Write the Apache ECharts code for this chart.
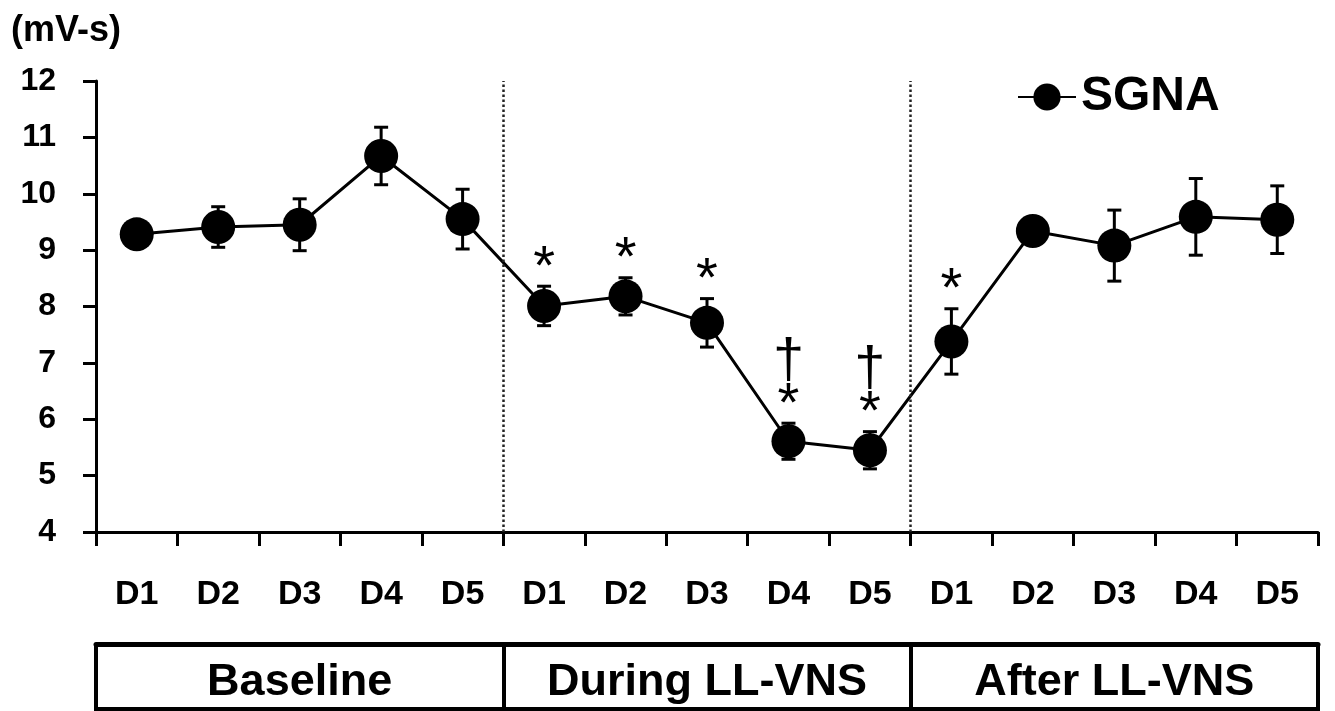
<!DOCTYPE html>
<html>
<head>
<meta charset="utf-8">
<title>SGNA</title>
<script src="https://cdn.jsdelivr.net/npm/echarts@6/dist/echarts.min.js"></script>
<style>
    html, body { margin: 0; padding: 0; background: #fff; }
    #chart { width: 1335px; height: 711px; }
</style>
</head>
<body>
<div id="chart"></div>
<script>
// day labels along the x axis
const dayLabels = ['D1', 'D2', 'D3', 'D4', 'D5', 'D1', 'D2', 'D3', 'D4', 'D5', 'D1', 'D2', 'D3', 'D4', 'D5'];
// phase boxes under the axis
const phases = ['Baseline', 'During LL-VNS', 'After LL-VNS'];
// where the phases meet (in day slots)
const phaseBounds = [5, 10];
// SGNA mean and SEM (mV-s)
const sgnaMean = [9.28, 9.41, 9.45, 10.67, 9.55, 8.01, 8.18, 7.71, 5.61, 5.45, 7.38, 9.34, 9.08, 9.59, 9.54];
const sgnaSem = [0.15, 0.36, 0.46, 0.51, 0.53, 0.35, 0.33, 0.43, 0.32, 0.33, 0.58, 0.18, 0.63, 0.68, 0.60];
// significance marks above the points
const sigMarks = ['', '', '', '', '', '*', '*', '*', '†\n*', '†\n*', '*', '', '', '', ''];
// y axis ticks
const yMin = 4, yMax = 12, yStep = 1;

const font = '"Liberation Sans", Arial, sans-serif';
const black = '#000';

const chart = echarts.init(document.getElementById('chart'));

const errorData = sgnaMean.map((m, i) => [i, m - sgnaSem[i], m + sgnaSem[i]]);
const markData = sigMarks
    .map((s, i) => ({ value: [i, sgnaMean[i] + sgnaSem[i]], mark: s }))
    .filter(d => d.mark);

const option = {
    backgroundColor: '#fff',
    animation: false,
    title: {
        text: '(mV-s)',
        left: 6,
        top: 8,
        textStyle: { fontFamily: font, fontWeight: 'bold', fontSize: 36, color: black }
    },
    legend: {
        data: ['SGNA'],
        left: 1012,
        top: 68,
        itemWidth: 58,
        itemHeight: 34,
        itemGap: 4,
        textStyle: { fontFamily: font, fontWeight: 'bold', fontSize: 48, color: black }
    },
    grid: { left: 96, right: 17, top: 81, bottom: 179 },
    xAxis: [
        {
            type: 'category',
            data: dayLabels,
            boundaryGap: true,
            axisLine: { lineStyle: { color: black, width: 3 } },
            axisTick: { show: true, interval: 0, length: 14, lineStyle: { color: black, width: 3 } },
            axisLabel: { interval: 0, color: black, fontFamily: font, fontWeight: 'bold', fontSize: 34, margin: 46 },
            splitLine: { show: false }
        },
        {
            type: 'category',
            data: phases,
            position: 'bottom',
            offset: 112,
            boundaryGap: true,
            axisLine: { lineStyle: { color: black, width: 5 } },
            axisTick: { show: true, interval: 0, length: 68, lineStyle: { color: black, width: 4 } },
            axisLabel: { interval: 0, hideOverlap: false, color: black, fontFamily: font, fontWeight: 'bold', fontSize: 45, margin: 16 },
            splitLine: { show: false }
        },
        {
            type: 'category',
            data: phases,
            position: 'bottom',
            offset: 177,
            axisLine: { lineStyle: { color: black, width: 4 } },
            axisTick: { show: false },
            axisLabel: { show: false },
            splitLine: { show: false }
        },
        {
            // hidden linear axis over the day slots, used for the phase dividers
            type: 'value',
            min: 0,
            max: dayLabels.length,
            show: false
        }
    ],
    yAxis: {
        type: 'value',
        min: yMin,
        max: yMax,
        interval: yStep,
        axisLine: { show: true, lineStyle: { color: black, width: 3 } },
        axisTick: { show: true, length: 13, lineStyle: { color: black, width: 3 } },
        axisLabel: { color: black, fontFamily: font, fontWeight: 'bold', fontSize: 32, margin: 40 },
        splitLine: { show: false }
    },
    series: [
        {
            name: 'dividers',
            type: 'line',
            xAxisIndex: 3,
            data: [],
            silent: true,
            markLine: {
                symbol: 'none',
                silent: true,
                label: { show: false },
                lineStyle: { color: '#222', width: 2.5, type: 'dotted' },
                data: phaseBounds.map(b => ({ xAxis: b }))
            }
        },
        {
            name: 'error',
            type: 'custom',
            z: 1,
            data: errorData,
            renderItem: (params, api) => {
                const x = api.value(0);
                const lo = api.coord([x, api.value(1)]);
                const hi = api.coord([x, api.value(2)]);
                const cap = 7;
                const style = { stroke: black, lineWidth: 3 };
                return {
                    type: 'group',
                    children: [
                        { type: 'line', shape: { x1: lo[0], y1: lo[1], x2: hi[0], y2: hi[1] }, style },
                        { type: 'line', shape: { x1: hi[0] - cap, y1: hi[1], x2: hi[0] + cap, y2: hi[1] }, style },
                        { type: 'line', shape: { x1: lo[0] - cap, y1: lo[1], x2: lo[0] + cap, y2: lo[1] }, style }
                    ]
                };
            }
        },
        {
            name: 'SGNA',
            type: 'line',
            z: 3,
            data: sgnaMean,
            symbol: 'circle',
            symbolSize: 34,
            itemStyle: { color: black },
            lineStyle: { color: black, width: 3 }
        },
        {
            name: 'marks',
            type: 'scatter',
            z: 4,
            data: markData,
            symbolSize: 0,
            itemStyle: { opacity: 1 },
            label: {
                show: true,
                position: 'top',
                distance: -4,
                formatter: (p) => p.data.mark,
                color: black,
                opacity: 1,
                fontFamily: font,
                fontSize: 56,
                lineHeight: 44,
                align: 'center'
            }
        }
    ]
};

chart.setOption(option);
</script>
</body>
</html>
